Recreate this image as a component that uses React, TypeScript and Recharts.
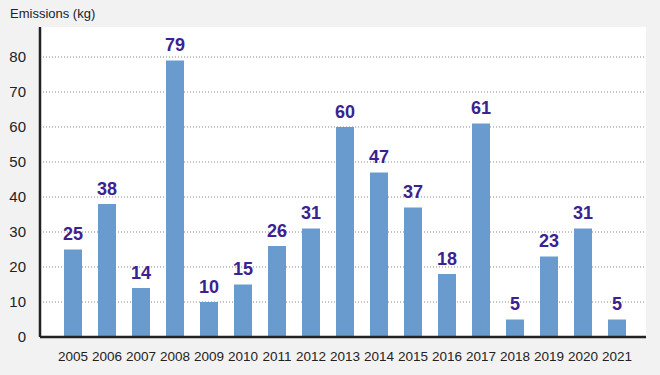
import { BarChart, Bar, XAxis, YAxis, CartesianGrid, LabelList } from 'recharts'

const years = ['2005', '2006', '2007', '2008', '2009', '2010', '2011', '2012', '2013', '2014', '2015', '2016', '2017', '2018', '2019', '2020', '2021']
const emissions = [25, 38, 14, 79, 10, 15, 26, 31, 60, 47, 37, 18, 61, 5, 23, 31, 5]
const yTicks = [0, 10, 20, 30, 40, 50, 60, 70, 80]
const yMax = 88.57

const chartData = years.map((year, i) => ({ year, value: emissions[i] }))

const font = 'Helvetica, Arial, "Liberation Sans", sans-serif'

// grid lines at the ticks only (no line along the top edge)
const gridLines = ({ offset }: any) =>
  yTicks.slice(1).map((t) => offset.top + offset.height * (1 - t / yMax))

export default function App() {
  return (
    <div style={{ position: 'absolute', left: 0, top: 0, width: 660, height: 375, background: '#f2f2f2', fontFamily: font }}>
      <div style={{ position: 'absolute', left: 10, top: 6, fontSize: 13, color: '#222' }}>Emissions (kg)</div>
      <BarChart
        width={660}
        height={375}
        data={chartData}
        margin={{ top: 27, right: 14, left: 0, bottom: 8 }}
        barSize={18}
      >
        <CartesianGrid
          vertical={false}
          fill="#ffffff"
          stroke="#888"
          strokeDasharray="1 2"
          horizontalCoordinatesGenerator={gridLines}
        />
        <XAxis
          dataKey="year"
          height={30}
          padding={{ left: 16, right: 12 }}
          tickLine={false}
          axisLine={{ stroke: '#222', strokeWidth: 2.5 }}
          tick={{ fill: '#222', fontSize: 13.5, fontFamily: font }}
          tickMargin={8}
          interval={0}
        />
        <YAxis
          width={40}
          domain={[0, yMax]}
          ticks={yTicks}
          tickLine={false}
          axisLine={{ stroke: '#222', strokeWidth: 2.5 }}
          tick={{ fill: '#222', fontSize: 15, fontFamily: font }}
          tickMargin={8}
          allowDataOverflow
        />
        <Bar dataKey="value" fill="#6a9bcf" isAnimationActive={false}>
          <LabelList
            dataKey="value"
            position="top"
            offset={9}
            fill="#3b2290"
            fontSize={18}
            fontWeight="bold"
            fontFamily={font}
          />
        </Bar>
      </BarChart>
    </div>
  )
}
